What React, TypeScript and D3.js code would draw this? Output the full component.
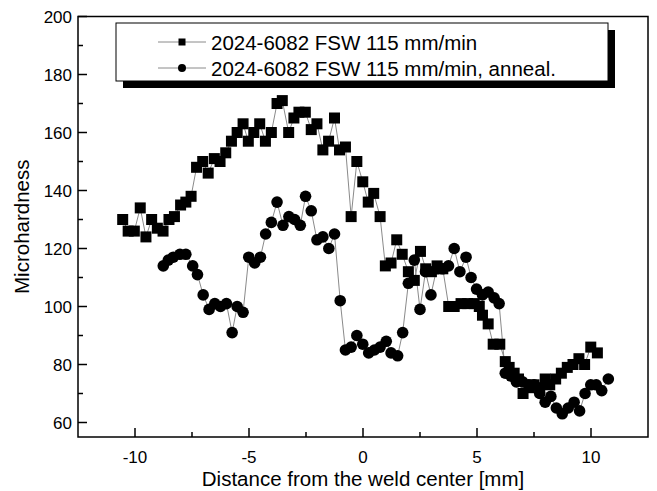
import React from "react";
import * as d3 from "d3";

const squareX = [-10.54,-10.3,-10.03,-9.77,-9.52,-9.27,-9.02,-8.77,-8.51,-8.27,-8.0,-7.77,-7.54,-7.3,-7.03,-6.79,-6.52,-6.27,-6.02,-5.77,-5.52,-5.26,-5.03,-4.79,-4.53,-4.28,-4.02,-3.77,-3.54,-3.26,-3.03,-2.81,-2.53,-2.27,-2.02,-1.76,-1.51,-1.25,-1.03,-0.77,-0.52,-0.27,-0.01,0.23,0.47,0.75,0.98,1.23,1.48,1.72,1.99,2.25,2.52,2.75,3.0,3.25,3.5,3.76,4.0,4.3,4.59,4.88,5.1,5.24,5.49,5.71,6.0,6.24,6.41,6.63,6.82,7.02,7.29,7.5,7.75,7.99,8.19,8.45,8.7,8.96,9.21,9.47,9.72,9.99,10.28];
const squareY = [130,126,126,134,124,130,127,126,130,131,135,136,138,148,150,146,151,150,153,157,160,163,157,160,163,157,160,170,171,160,165,167,167,161,163,154,157,165,154,155,131,150,143,136,139,131,114,115,123,118,112,109,119,113,112,114,113,100,100,101,101,101,100,97,94,87,87,81,79,77,75,70,72,73,72,75,73,75,77,79,80,82,80,86,84];

const circleX = [-8.76,-8.54,-8.32,-8.03,-7.77,-7.47,-7.26,-7.01,-6.75,-6.5,-6.25,-5.99,-5.74,-5.52,-5.26,-5.01,-4.75,-4.5,-4.27,-4.02,-3.77,-3.51,-3.25,-3.0,-2.75,-2.52,-2.27,-2.02,-1.76,-1.5,-1.25,-1.0,-0.77,-0.52,-0.27,-0.01,0.25,0.5,0.75,1.02,1.23,1.52,1.74,1.99,2.25,2.5,2.74,2.98,3.23,3.49,3.75,4.0,4.25,4.52,4.74,4.98,5.24,5.49,5.75,5.97,6.24,6.49,6.73,7.0,7.26,7.5,7.75,7.99,8.24,8.48,8.74,9.0,9.26,9.5,9.74,9.99,10.23,10.47,10.76];
const circleY = [114,116,117,118,118,114,111,104,99,101,100,101,91,100,98,117,115,117,125,129,136,128,131,130,128,138,133,123,124,120,125,102,85,86,90,87,84,85,86,88,84,83,91,108,116,99,112,104,113,113,114,120,112,117,110,106,104,105,103,101,77,76,74,74,73,73,70,67,69,65,63,65,67,64,70,73,73,71,75];

const xMajor = [-10, -5, 0, 5, 10];
const xMinor = [-7.5, -2.5, 2.5, 7.5];
const yMajor = [60, 80, 100, 120, 140, 160, 180, 200];
const yMinor = [70, 90, 110, 130, 150, 170, 190];

const seriesNames = ["2024-6082 FSW 115 mm/min", "2024-6082 FSW 115 mm/min, anneal."];
const xTitle = "Distance from the weld center [mm]";
const yTitle = "Microhardness";

export default function App() {
  const W = 657, H = 491;
  const left = 78, right = 648, top = 16.5, bottom = 437;
  const x = d3.scaleLinear().domain([-12.5, 12.5]).range([left, right]);
  const y = d3.scaleLinear().domain([55, 200]).range([bottom, top]);
  const font = "'Liberation Sans', Arial, sans-serif";

  const sq = squareX.map((v, i) => [v, squareY[i]] as [number, number]);
  const ci = circleX.map((v, i) => [v, circleY[i]] as [number, number]);
  const line = d3.line<[number, number]>().x(d => x(d[0])).y(d => y(d[1]));
  const s = 11;
  const r = 5.8;

  const lg = { x0: 116, y0: 23, x1: 608, y1: 81 };

  return (
    <svg width={W} height={H} style={{ position: "absolute", left: 0, top: 0 }} fontFamily={font}>
      <rect x={0} y={0} width={W} height={H} fill="#fff" />
      <path d={line(sq) || ""} fill="none" stroke="#8a8a8a" strokeWidth={1} />
      <path d={line(ci) || ""} fill="none" stroke="#8a8a8a" strokeWidth={1} />
      {sq.map((d, i) => (
        <rect key={"s" + i} x={x(d[0]) - s / 2} y={y(d[1]) - s / 2} width={s} height={s} fill="#000" />
      ))}
      {ci.map((d, i) => (
        <circle key={"c" + i} cx={x(d[0])} cy={y(d[1])} r={r} fill="#000" />
      ))}
      <rect x={left} y={top} width={right - left} height={bottom - top} fill="none" stroke="#000" strokeWidth={1.5} />
      {xMajor.map(t => (
        <g key={"xm" + t}>
          <line x1={x(t)} x2={x(t)} y1={bottom} y2={bottom - 9} stroke="#000" strokeWidth={1.5} />
          <text x={x(t)} y={463} textAnchor="middle" fontSize={17}>{t}</text>
        </g>
      ))}
      {xMinor.map(t => (
        <line key={"xn" + t} x1={x(t)} x2={x(t)} y1={bottom} y2={bottom - 5} stroke="#000" strokeWidth={1.5} />
      ))}
      {yMajor.map(t => (
        <g key={"ym" + t}>
          <line x1={left} x2={left + 9} y1={y(t)} y2={y(t)} stroke="#000" strokeWidth={1.5} />
          <text x={72} y={y(t) + 6} textAnchor="end" fontSize={17}>{t}</text>
        </g>
      ))}
      {yMinor.map(t => (
        <line key={"yn" + t} x1={left} x2={left + 5} y1={y(t)} y2={y(t)} stroke="#000" strokeWidth={1.5} />
      ))}
      <text x={363} y={486} textAnchor="middle" fontSize={20.5}>{xTitle}</text>
      <text transform={`translate(29,${(top + bottom) / 2}) rotate(-90)`} textAnchor="middle" fontSize={20.5}>{yTitle}</text>
      <rect x={lg.x0 + 7} y={lg.y0 + 7} width={lg.x1 - lg.x0} height={lg.y1 - lg.y0} fill="#000" />
      <rect x={lg.x0} y={lg.y0} width={lg.x1 - lg.x0} height={lg.y1 - lg.y0} fill="#fff" stroke="#000" strokeWidth={1} />
      {seriesNames.map((n, i) => {
        const cy = 42 + i * 26;
        return (
          <g key={n}>
            <line x1={158} x2={206} y1={cy} y2={cy} stroke="#8a8a8a" strokeWidth={1} />
            {i === 0 ? (
              <rect x={182 - 3.5} y={cy - 3.5} width={7} height={7} fill="#000" />
            ) : (
              <circle cx={182} cy={cy} r={4} fill="#000" />
            )}
            <text x={211} y={cy + 7.5} fontSize={20.5}>{n}</text>
          </g>
        );
      })}
    </svg>
  );
}
